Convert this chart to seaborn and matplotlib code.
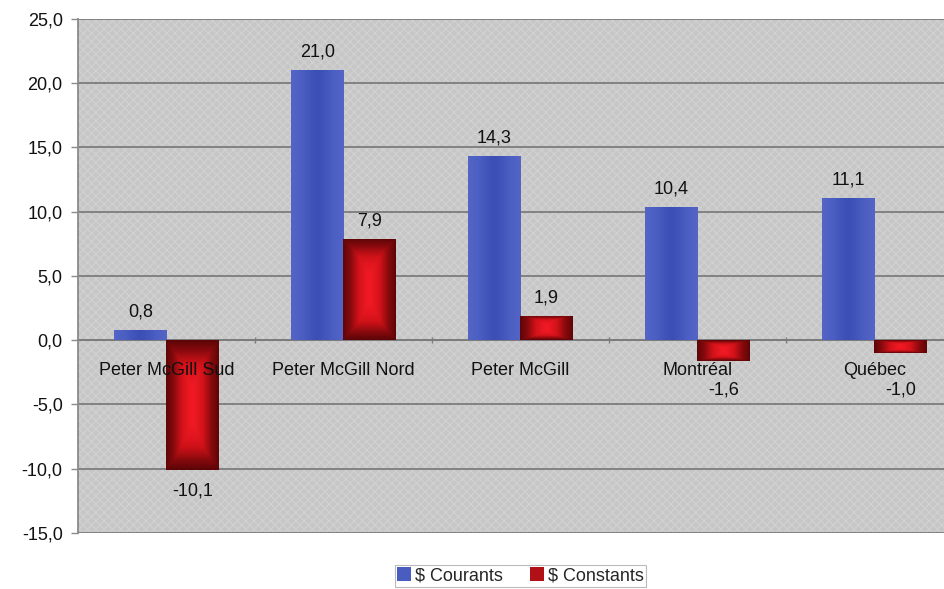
import numpy as np
import pandas as pd
import matplotlib
matplotlib.use("Agg")
import matplotlib.pyplot as plt
from matplotlib.colors import LinearSegmentedColormap
from matplotlib.ticker import FixedLocator, FuncFormatter
import seaborn as sns

# Variation (%) by zone, current vs. constant dollars
zones = ["Peter McGill Sud", "Peter McGill Nord", "Peter McGill", "Montréal", "Québec"]
courants = [0.8, 21.0, 14.3, 10.4, 11.1]
constants = [-10.1, 7.9, 1.9, -1.6, -1.0]
series = ["$ Courants", "$ Constants"]
y_ticks = [-15, -10, -5, 0, 5, 10, 15, 20, 25]

df = pd.DataFrame({
    "zone": zones * 2,
    "valeur": courants + constants,
    "serie": [series[0]] * len(zones) + [series[1]] * len(zones),
})

sns.set_theme(style="white")
plt.rcParams["font.family"] = ["Liberation Sans", "DejaVu Sans"]
FS = 13

fig = plt.figure(figsize=(9.44, 5.89), dpi=100)
ax = fig.add_axes([0.0826, 0.0951, 0.9375, 0.8727])
ax.set_facecolor("#c6c6c6")

blue = "#4a5cc0"
red = "#c8141c"
sns.barplot(data=df, x="zone", y="valeur", hue="serie", order=zones,
            hue_order=series, palette=[blue, red], width=0.59, gap=0,
            saturation=1, edgecolor="none", linewidth=0, ax=ax, legend=True,
            zorder=3)

# woven background texture
ax.add_patch(plt.Rectangle((0, 0), 1, 1, transform=ax.transAxes,
                           facecolor="none", edgecolor="#d0d0d0",
                           hatch="xxxx", linewidth=0, zorder=0))

ax.set_xlim(-0.5, 4.5)
ax.set_ylim(-15, 25)

# gradient fills inside the bars
blue_cmap = LinearSegmentedColormap.from_list("b", ["#3c4fb6", "#4b5ec2", "#5465c6"])
red_cmap = LinearSegmentedColormap.from_list("r", ["#f21a24", "#d21219", "#8a0a0e", "#5e0507"])
u = np.linspace(-1, 1, 60)
U, V = np.meshgrid(u, u)
bars = ax.patches[:2 * len(zones)]
for i, p in enumerate(bars):
    x0, y0 = p.get_x(), p.get_y()
    w, h = p.get_width(), p.get_height()
    if i < len(zones):
        t = np.abs(U) ** 1.3
        cmap = blue_cmap
    else:
        t = np.maximum(np.abs(U), np.abs(V) ** 2) ** 1.2
        cmap = red_cmap
    im = ax.imshow(t, cmap=cmap, vmin=0, vmax=1, aspect="auto",
                   extent=[x0, x0 + w, min(y0, y0 + h), max(y0, y0 + h)],
                   interpolation="bilinear", zorder=3.5)
    im.set_clip_path(p)

ax.set_xlim(-0.5, 4.5)
ax.set_ylim(-15, 25)

# value labels: above positive bars, below negative bars (kept clear of
# the category names that sit under the zero line)
values = courants + constants
for p, val in zip(bars, values):
    xc = p.get_x() + p.get_width() / 2
    txt = f"{val:.1f}".replace(".", ",")
    if val >= 0:
        ax.annotate(txt, (xc, val), xytext=(0, 18), textcoords="offset pixels",
                    ha="center", va="center", fontsize=FS, color="#111111",
                    zorder=7)
    else:
        ax.text(xc, min(val - 1.65, -3.9), txt, ha="center", va="center",
                fontsize=FS, color="#111111", zorder=7)

# grid lines
ax.yaxis.set_major_locator(FixedLocator(y_ticks))
ax.yaxis.set_major_formatter(FuncFormatter(lambda v, _: f"{v:.1f}".replace(".", ",")))
for yv in y_ticks:
    ax.axhline(yv, color="#7c7c7c", linewidth=1.3, zorder=1)

for side in ["top", "right"]:
    ax.spines[side].set_visible(False)
ax.spines["left"].set_color("#8a8a8a")
ax.spines["left"].set_linewidth(1.3)
ax.spines["bottom"].set_position(("data", 0))
ax.spines["bottom"].set_color("#7c7c7c")
ax.spines["bottom"].set_linewidth(1.3)
ax.spines["bottom"].set_zorder(2)

ax.tick_params(axis="y", which="major", length=5, width=1, color="#8a8a8a",
               labelsize=FS, labelcolor="#111111", left=True, pad=6)
ax.tick_params(axis="x", which="major", length=0, labelsize=FS,
               labelcolor="#111111", pad=16)
ax.set_xticks(np.arange(0.5, 4.5, 1.0), minor=True)
ax.tick_params(axis="x", which="minor", length=5, width=1, color="#7c7c7c",
               direction="inout", bottom=True)
ax.xaxis.set_zorder(6)
ax.set_xlabel("")
ax.set_ylabel("")

# legend
handles, labels = ax.get_legend_handles_labels()
ax.get_legend().remove()
leg = fig.legend(handles, labels, loc="center", bbox_to_anchor=(0.551, 0.022),
                 ncol=2, frameon=True, fontsize=FS, handlelength=0.8,
                 handleheight=0.8, handletextpad=0.2, columnspacing=1.5,
                 borderpad=0.12, borderaxespad=0, fancybox=False)
leg.get_frame().set_edgecolor("#aaaaaa")
leg.get_frame().set_linewidth(0.8)
leg.legend_handles[1].set_facecolor("#b01016")

fig.savefig("out.png", dpi=100)
